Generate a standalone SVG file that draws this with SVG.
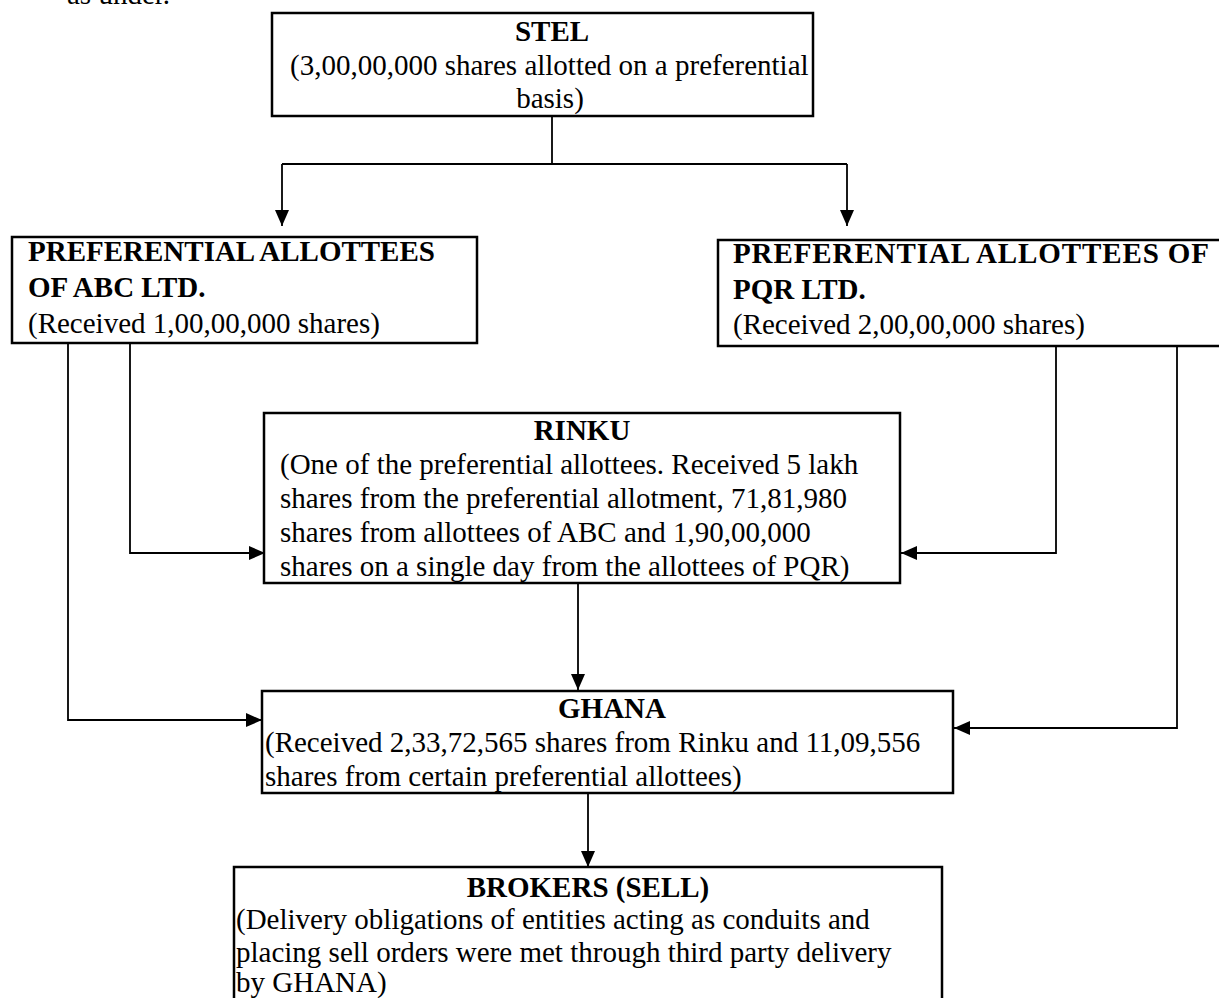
<svg xmlns="http://www.w3.org/2000/svg" width="1219" height="998" viewBox="0 0 1219 998">
<style>
text{font-family:"Liberation Serif","Times New Roman",serif;font-size:29px;fill:#000}
.b{font-weight:bold}
.c{text-anchor:middle}
.box{fill:#fff;stroke:#000;stroke-width:2.5}
.ln{fill:none;stroke:#000;stroke-width:1.8}
</style>
<defs>
<marker id="ah" markerUnits="userSpaceOnUse" markerWidth="16" markerHeight="14" refX="16" refY="7" orient="auto">
<path d="M0,0 L16,7 L0,14 z" fill="#000"/>
</marker>
</defs>
<rect width="1219" height="998" fill="#fff"/>
<text x="67" y="4">as under.</text>
<g id="connectors">
<path class="ln" d="M552,116 V164"/>
<path class="ln" d="M282,164 H847"/>
<path class="ln" d="M282,164 V226" marker-end="url(#ah)"/>
<path class="ln" d="M847,164 V226" marker-end="url(#ah)"/>
<path class="ln" d="M130,343 V553 H265" marker-end="url(#ah)"/>
<path class="ln" d="M68,343 V720 H262" marker-end="url(#ah)"/>
<path class="ln" d="M1056,346 V553 H901" marker-end="url(#ah)"/>
<path class="ln" d="M1177,346 V728 H954" marker-end="url(#ah)"/>
<path class="ln" d="M578,583 V690" marker-end="url(#ah)"/>
<path class="ln" d="M588,793 V867" marker-end="url(#ah)"/>
</g>
<g id="stel">
<rect class="box" x="272" y="13" width="541" height="103"/>
<text class="b c" x="552" y="41">STEL</text>
<text x="290" y="75">(3,00,00,000 shares allotted on a preferential</text>
<text class="c" x="550" y="108">basis)</text>
</g>
<g id="abc">
<rect class="box" x="12" y="237" width="465" height="106"/>
<text class="b" x="28" y="261">PREFERENTIAL ALLOTTEES</text>
<text class="b" x="28" y="297">OF ABC LTD.</text>
<text x="28" y="333">(Received 1,00,00,000 shares)</text>
</g>
<g id="pqr">
<rect class="box" x="718" y="240" width="504" height="106"/>
<text class="b" x="733" y="263" textLength="476">PREFERENTIAL ALLOTTEES OF</text>
<text class="b" x="733" y="299">PQR LTD.</text>
<text x="733" y="334">(Received 2,00,00,000 shares)</text>
</g>
<g id="rinku">
<rect class="box" x="264" y="413" width="636" height="170"/>
<text class="b c" x="582" y="440">RINKU</text>
<text x="280" y="474">(One of the preferential allottees. Received 5 lakh</text>
<text x="280" y="508">shares from the preferential allotment, 71,81,980</text>
<text x="280" y="542">shares from allottees of ABC and 1,90,00,000</text>
<text x="280" y="576">shares on a single day from the allottees of PQR)</text>
</g>
<g id="ghana">
<rect class="box" x="262" y="691" width="691" height="102"/>
<text class="b c" x="612" y="718">GHANA</text>
<text x="265" y="752">(Received 2,33,72,565 shares from Rinku and 11,09,556</text>
<text x="265" y="786">shares from certain preferential allottees)</text>
</g>
<g id="brokers">
<rect class="box" x="234" y="867" width="708" height="140"/>
<text class="b c" x="588" y="897">BROKERS (SELL)</text>
<text x="236" y="929">(Delivery obligations of entities acting as conduits and</text>
<text x="236" y="962">placing sell orders were met through third party delivery</text>
<text x="236" y="992">by GHANA)</text>
</g>
</svg>
